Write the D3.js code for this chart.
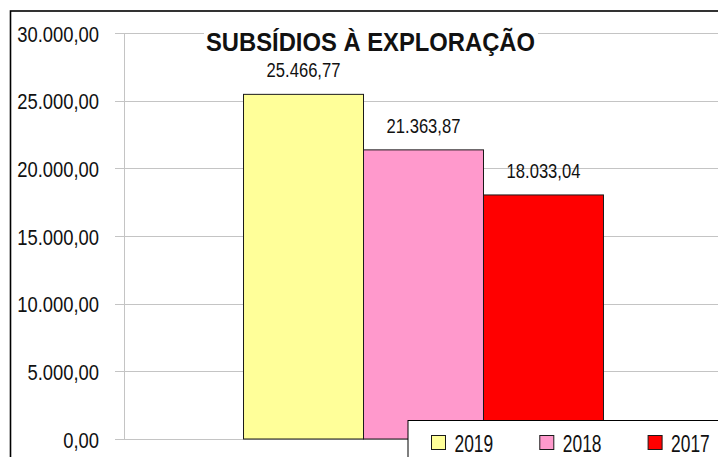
<!DOCTYPE html>
<html>
<head>
<meta charset="utf-8">
<script src="https://cdn.jsdelivr.net/npm/d3@7"></script>
<style>
  body { margin: 0; background: #fff; }
  text { font-family: "Liberation Sans", Arial, sans-serif; fill: #111; }
</style>
</head>
<body>
<div id="chart"></div>
<script>
const title = "SUBSÍDIOS À EXPLORAÇÃO";
const categories = ["Subsídios"];
const seriesNames = ["2019", "2018", "2017"];
const seriesValues = [25466.77, 21363.87, 18033.04];
const seriesColors = ["#ffff99", "#ff99cc", "#ff0000"];
const yTicks = [0, 5000, 10000, 15000, 20000, 25000, 30000];

const width = 718, height = 457;
const plot = { left: 124, right: 723, top: 33, bottom: 439 };

// portuguese number format: 25.466,77
const ptFormat = d3.formatLocale({ decimal: ",", thousands: ".", grouping: [3], currency: ["€", ""] }).format(",.2f");

const svg = d3.select("#chart").append("svg")
    .attr("width", width)
    .attr("height", height);

// outer frame (runs off the right and bottom)
svg.append("rect")
    .attr("x", 10.5).attr("y", 11)
    .attr("width", 740).attr("height", 480)
    .attr("fill", "#fff")
    .attr("stroke", "#000")
    .attr("stroke-width", 1.6);

const y = d3.scaleLinear().domain([0, 30000]).range([plot.bottom, plot.top]);

const x0 = d3.scaleBand().domain(categories).range([plot.left, plot.right])
    .paddingInner(0).paddingOuter(0.332);
const x1 = d3.scaleBand().domain(seriesNames).range([0, x0.bandwidth()]).padding(0);

// gridlines with tick stubs
svg.selectAll(".grid").data(yTicks).join("line")
    .attr("class", "grid")
    .attr("x1", plot.left - 9)
    .attr("x2", plot.right)
    .attr("y1", (d) => Math.round(y(d)) + 0.5)
    .attr("y2", (d) => Math.round(y(d)) + 0.5)
    .attr("stroke", "#c4c4c4")
    .attr("stroke-width", 1);

svg.append("line")
    .attr("x1", plot.left + 0.5).attr("x2", plot.left + 0.5)
    .attr("y1", plot.top).attr("y2", plot.bottom + 1)
    .attr("stroke", "#c4c4c4");

// y tick labels (stretched vertically like the original)
svg.selectAll(".ylab").data(yTicks).join("g")
    .attr("class", "ylab")
    .attr("transform", (d) => `translate(99,${y(d) + 8.5}) scale(1,1.2)`)
    .append("text")
    .attr("text-anchor", "end")
    .style("font-size", "18.4px")
    .text((d) => ptFormat(d));

// bars
const bars = seriesNames.map((s, i) => ({ name: s, value: seriesValues[i], color: seriesColors[i] }));
const g = svg.append("g").attr("transform", `translate(${x0(categories[0])},0)`);

g.selectAll(".bar").data(bars).join("rect")
    .attr("class", "bar")
    .attr("x", (d) => x1(d.name))
    .attr("width", x1.bandwidth())
    .attr("y", (d) => y(d.value))
    .attr("height", (d) => y(0) - y(d.value))
    .attr("fill", (d) => d.color)
    .attr("stroke", "#1a1a1a")
    .attr("stroke-width", 1);

g.selectAll(".vlab").data(bars).join("g")
    .attr("class", "vlab")
    .attr("transform", (d) => `translate(${x1(d.name) + x1.bandwidth() / 2},${y(d.value) - 17}) scale(1,1.24)`)
    .append("text")
    .attr("text-anchor", "middle")
    .style("font-size", "16.6px")
    .text((d) => ptFormat(d.value));

// title with white background over the top gridline
const titleG = svg.append("g").attr("transform", "translate(206,51) scale(1,1.07)");
titleG.append("rect")
    .attr("x", -2).attr("y", -21).attr("width", 334).attr("height", 24)
    .attr("fill", "#fff");
titleG.append("text")
    .style("font-size", "23.8px")
    .style("font-weight", "bold")
    .text(title);

// legend
const legend = svg.append("g").attr("transform", "translate(408,420.5)");
legend.append("rect")
    .attr("x", 0).attr("y", 0).attr("width", 330).attr("height", 60)
    .attr("fill", "#fff")
    .attr("stroke", "#000")
    .attr("stroke-width", 1);

const items = legend.selectAll(".legend-item").data(bars).join("g")
    .attr("class", "legend-item")
    .attr("transform", (d, i) => `translate(${23.5 + i * 108.3},15)`);

items.append("rect")
    .attr("width", 14).attr("height", 14)
    .attr("fill", (d) => d.color)
    .attr("stroke", "#1a1a1a");

items.append("g")
    .attr("transform", "translate(23,16.5) scale(1,1.4)")
    .append("text")
    .style("font-size", "17.4px")
    .text((d) => d.name);
</script>
</body>
</html>
